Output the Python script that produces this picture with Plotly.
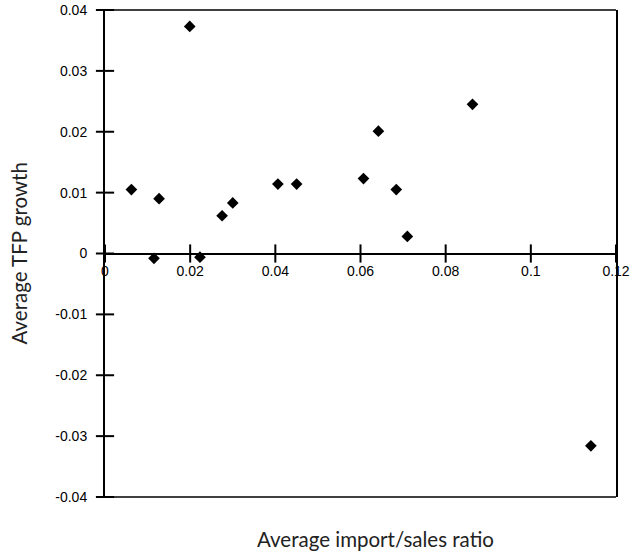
import plotly.graph_objects as go

# Average import/sales ratio vs. average TFP growth, one point per industry
import_ratio = [0.0062, 0.0115, 0.0127, 0.0199, 0.0223, 0.0275, 0.0300,
                0.0406, 0.0450, 0.0607, 0.0642, 0.0684, 0.0710, 0.0863, 0.1141]
tfp_growth = [0.0105, -0.0008, 0.0090, 0.0373, -0.0006, 0.0062, 0.0083,
              0.0114, 0.0114, 0.0123, 0.0201, 0.0105, 0.0028, 0.0245, -0.0316]

x_ticks = [0, 0.02, 0.04, 0.06, 0.08, 0.1, 0.12]
x_labels = ["0", "0.02", "0.04", "0.06", "0.08", "0.1", "0.12"]
y_ticks = [0.04, 0.03, 0.02, 0.01, 0, -0.01, -0.02, -0.03, -0.04]
y_labels = ["0.04", "0.03", "0.02", "0.01", "0", "-0.01", "-0.02", "-0.03", "-0.04"]

X_RANGE = [0, 0.12]
Y_RANGE = [-0.04, 0.04]
INK = "#000000"
tick_font = dict(family="Liberation Sans, Arial, sans-serif", size=14, color="#000000")
title_font = dict(family="Lato, sans-serif", size=20.5, color="#222222")

fig = go.Figure()

# crossing tick marks: short vertical strokes on the x axis (y = 0)
fig.add_trace(go.Scatter(
    x=x_ticks, y=[0] * len(x_ticks), mode="markers", cliponaxis=False,
    marker=dict(symbol="line-ns", size=13, color=INK, line=dict(width=2, color=INK)),
    showlegend=False, hoverinfo="skip",
))
# ... and short horizontal strokes on the y axis (x = 0)
fig.add_trace(go.Scatter(
    x=[0] * len(y_ticks), y=y_ticks, mode="markers", cliponaxis=False,
    marker=dict(symbol="line-ew", size=13, color=INK, line=dict(width=2, color=INK)),
    showlegend=False, hoverinfo="skip",
))

fig.add_trace(go.Scatter(
    x=import_ratio, y=tfp_growth, mode="markers",
    marker=dict(symbol="diamond", size=9, color="#000000", line=dict(width=0)),
    showlegend=False, hoverinfo="x+y",
))

fig.update_layout(
    width=633, height=554,
    margin=dict(l=105, r=17, t=10, b=57),
    paper_bgcolor="white", plot_bgcolor="white",
    xaxis=dict(
        range=X_RANGE, anchor="free", position=0.5, automargin=False,
        tickmode="array", tickvals=x_ticks, ticktext=x_labels,
        ticks="", ticklabelstandoff=5,
        showline=True, linecolor=INK, linewidth=1.5,
        showgrid=False, zeroline=False, tickfont=tick_font,
    ),
    yaxis=dict(
        range=Y_RANGE, tickmode="array", tickvals=y_ticks, ticktext=y_labels,
        ticks="", ticklabelstandoff=13, automargin=False,
        showline=True, linecolor=INK, linewidth=2, mirror=True,
        showgrid=False, zeroline=False, tickfont=tick_font,
    ),
    shapes=[
        dict(type="line", xref="paper", yref="paper", x0=0, x1=1, y0=1, y1=1,
             line=dict(color=INK, width=1.5)),
        dict(type="line", xref="paper", yref="paper", x0=0, x1=1, y0=0, y1=0,
             line=dict(color=INK, width=1.5)),
    ],
    annotations=[
        dict(text="Average import/sales ratio", xref="paper", yref="paper",
             x=0.53, y=0, yshift=-42, xanchor="center", yanchor="middle",
             showarrow=False, font=title_font),
        dict(text="Average TFP growth", xref="paper", yref="paper",
             x=0, xshift=-87, y=0.5, xanchor="center", yanchor="middle",
             textangle=-90, showarrow=False, font=title_font),
    ],
)

fig.write_html("out.html")
